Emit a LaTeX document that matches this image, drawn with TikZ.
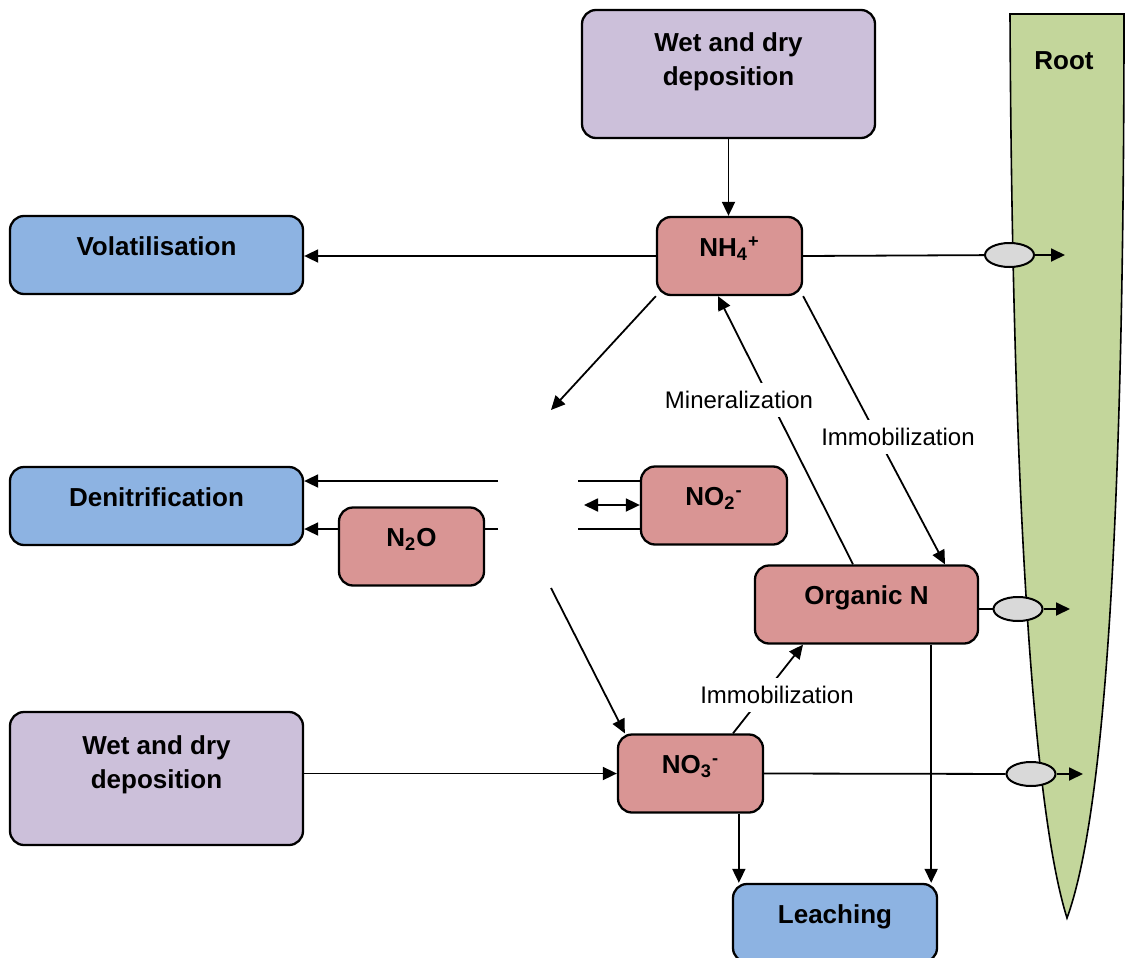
\documentclass[tikz,border=0pt]{standalone}
\usepackage{fontspec}
\setmainfont{Liberation Sans}
\usetikzlibrary{arrows.meta,shapes.geometric}
\definecolor{lilac}{HTML}{CCC0DA}
\definecolor{skyblue}{HTML}{8DB3E2}
\definecolor{rosy}{HTML}{D99594}
\definecolor{rootgreen}{HTML}{C3D69B}
\definecolor{carriergray}{HTML}{D9D9D9}
\tikzstyle{pool}=[draw, rounded corners=7pt, line width=1.15pt, align=center,
    font=\bfseries\fontsize{13}{17}\selectfont, text height=6pt, text depth=6pt]
\tikzstyle{source}=[pool, fill=lilac, minimum width=146.5pt]
\tikzstyle{loss}=[pool, fill=skyblue, minimum height=39pt]
\tikzstyle{form}=[pool, fill=rosy, minimum width=72.5pt, minimum height=39pt]
\tikzstyle{uptake}=[ellipse, draw, fill=carriergray, line width=1pt,
    inner sep=0pt, minimum width=24.5pt, minimum height=12pt]
\tikzstyle{process}=[fill=white, inner sep=4pt, font=\fontsize{12}{14}\selectfont]
\tikzstyle{flow}=[-{Triangle[length=7pt,width=6.5pt]}, line width=0.9pt]
\tikzstyle{flowboth}=[{Triangle[length=7pt,width=6.5pt]}-{Triangle[length=7pt,width=6.5pt]}, line width=0.9pt]
\newcommand{\pool}{\node[pool]}

\begin{document}
\begin{tikzpicture}[x=0.5pt, y=-0.5pt, line width=0.9pt]
\useasboundingbox (0,0) rectangle (1130,958);

% root
\draw[fill=rootgreen, line width=0.8pt] (1010,14) -- (1124,14)
    .. controls (1124,450) and (1110,800) .. (1067,918)
    .. controls (1030,800) and (1012,450) .. (1010,14) -- cycle;
\node[font=\bfseries\fontsize{13}{17}\selectfont] (rootlabel) at (1064,61) {Root};

% pools
\node[source, minimum height=64pt, text height=17pt] (depa) at (728.5,74) {Wet and dry\\deposition};
\node[loss, minimum width=146.5pt] (vol) at (156.5,255) {Volatilisation};
\node[form] (nh4) at (729.5,256) {NH\textsubscript{4}\textsuperscript{+}};
\node[loss, minimum width=146.5pt] (den) at (156.5,506) {Denitrification};
\node[form] (n2o) at (411.5,546.5) {N\textsubscript{2}O};
\node[form, minimum width=73pt] (no2) at (714,505.5) {NO\textsubscript{2}\textsuperscript{-}};
\node[form, minimum width=111.5pt] (orgn) at (866.5,604.5) {Organic N};
\node[source, minimum height=66.5pt, text height=15.5pt] (depb) at (156.5,778.5) {Wet and dry\\deposition};
\node[form] (no3) at (690.5,773.5) {NO\textsubscript{3}\textsuperscript{-}};
\node[loss, minimum width=102pt] (leach) at (835,923) {Leaching};

% carriers into the root
\node[uptake] (upa) at (1009.5,255) {};
\node[uptake] (upb) at (1018,609) {};
\node[uptake] (upc) at (1031,774) {};
\coordinate (tipa) at (1065,255);
\coordinate (tipb) at (1070,609);
\coordinate (tipc) at (1083,774);

% ends in the blank middle
\coordinate (nitra) at (551,410);
\coordinate (nitrb) at (551,588);
\coordinate (dena) at (498,481);
\coordinate (denb) at (498,529);
\coordinate (no2a) at (578,481);
\coordinate (no2b) at (578,529);
\coordinate (swap) at (584,505);
\coordinate (leachl) at ([xshift=3.5pt]leach.north west);
\coordinate (leachr) at ([xshift=-3.5pt]leach.north east);

\draw[flow] (depa.south) -- (depa.south |- nh4.north);
\draw[flow] (nh4.west) -- (nh4.west -| vol.east);
\draw (nh4.east) -- (upa);
\draw[flow] (upa) -- (tipa);
\draw[flow] (nh4.south west) -- (nitra);

\draw[flow] ([xshift=-6.75pt]orgn.north) -- ([xshift=-5.75pt]nh4.south);
\node[process] (mine) at (739,400) {Mineralization};
\draw[flow] (nh4.south east) -- ([xshift=39.25pt]orgn.north);
\node[process] (immoa) at (898,437) {Immobilization};

\draw[flow] (dena) -- (dena -| den.east);
\draw (denb) -- (denb -| n2o.east);
\draw[flow] (denb -| n2o.west) -- (denb -| den.east);
\draw (no2a) -- (no2a -| no2.west);
\draw (no2b) -- (no2b -| no2.west);
\draw[flowboth] (swap) -- (swap -| no2.west);

\draw[flow] (nitrb) -- ([xshift=4pt]no3.north west);
\draw[flow] ([xshift=21.25pt]no3.north) -- ([xshift=-31.75pt]orgn.south);
\node[process] (immob) at (777,695) {Immobilization};

\draw[flow] (no3.west -| depb.east) -- (no3.west);
\draw (no3.east) -- (upc);
\draw[flow] (upc) -- (tipc);
\draw (upb -| orgn.east) -- (upb);
\draw[flow] (upb) -- (tipb);

\draw[flow] (no3.south -| leachl) -- (leachl);
\draw[flow] (orgn.south -| leachr) -- (leachr);
\end{tikzpicture}
\end{document}
